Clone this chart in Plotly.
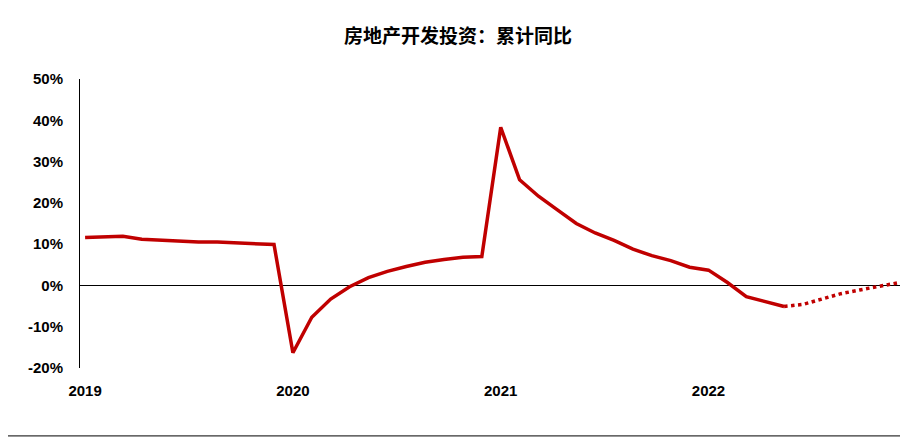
import plotly.graph_objects as go

# cumulative YoY, Jan-Feb combined, 2019-02 .. 2022-06 (actual)
actual = [11.6, 11.8, 11.9, 11.2, 10.9, 10.6, 10.5, 10.5, 10.3, 10.2, 9.9,
          -16.3, -7.7, -3.3, -0.3, 1.9, 3.4, 4.6, 5.6, 6.3, 6.8, 7.0,
          38.3, 25.6, 21.6, 18.3, 15.0, 12.7, 10.9, 8.8, 7.2, 6.0, 4.4,
          3.7, 0.7, -2.7, -4.0, -5.1]
# projection 2022-06 .. 2022-12
forecast = [-5.1, -4.6, -3.3, -2.0, -1.1, -0.2, 0.6]
year_labels = ["2019", "2020", "2021", "2022"]
y_ticks = [-20, -10, 0, 10, 20, 30, 40, 50]

n_act = len(actual)
x_act = list(range(n_act))
x_fc = list(range(n_act - 1, n_act - 1 + len(forecast)))

fig = go.Figure()
fig.add_trace(go.Scatter(x=x_act, y=actual, mode="lines",
                         line=dict(color="#C00000", width=3.5)))
fig.add_trace(go.Scatter(x=x_fc, y=forecast, mode="lines",
                         line=dict(color="#C00000", width=3.5, dash="dot")))

fig.update_layout(
    width=900, height=430, showlegend=False,
    plot_bgcolor="white", paper_bgcolor="white",
    margin=dict(l=72, r=3, t=71, b=70),
    title=dict(text="<b>房地产开发投资：累计同比</b>", x=0.5, y=0.935,
               xanchor="center", yanchor="middle",
               font=dict(family="Noto Sans CJK SC", size=19, color="black")),
    font=dict(family="Liberation Sans", size=15, color="black"),
)
fig.update_xaxes(range=[-0.27, 43.4], tickvals=[0, 11, 22, 33],
                 ticktext=["<b>%s</b>" % t for t in year_labels],
                 showgrid=False, zeroline=False, showline=False, ticks="",
                 ticklabelstandoff=12)
fig.update_yaxes(range=[-20, 50], tickvals=y_ticks,
                 ticktext=["<b>%d%%</b>" % v for v in y_ticks],
                 showgrid=False, showline=True,
                 linecolor="black", linewidth=1, ticks="",
                 zeroline=True, zerolinecolor="black", zerolinewidth=1,
                 ticklabelstandoff=13)
fig.add_shape(type="line", xref="paper", yref="paper", x0=-0.09, x1=1.004,
              y0=-0.235, y1=-0.235, line=dict(color="black", width=1))

fig.write_html("out.html")
